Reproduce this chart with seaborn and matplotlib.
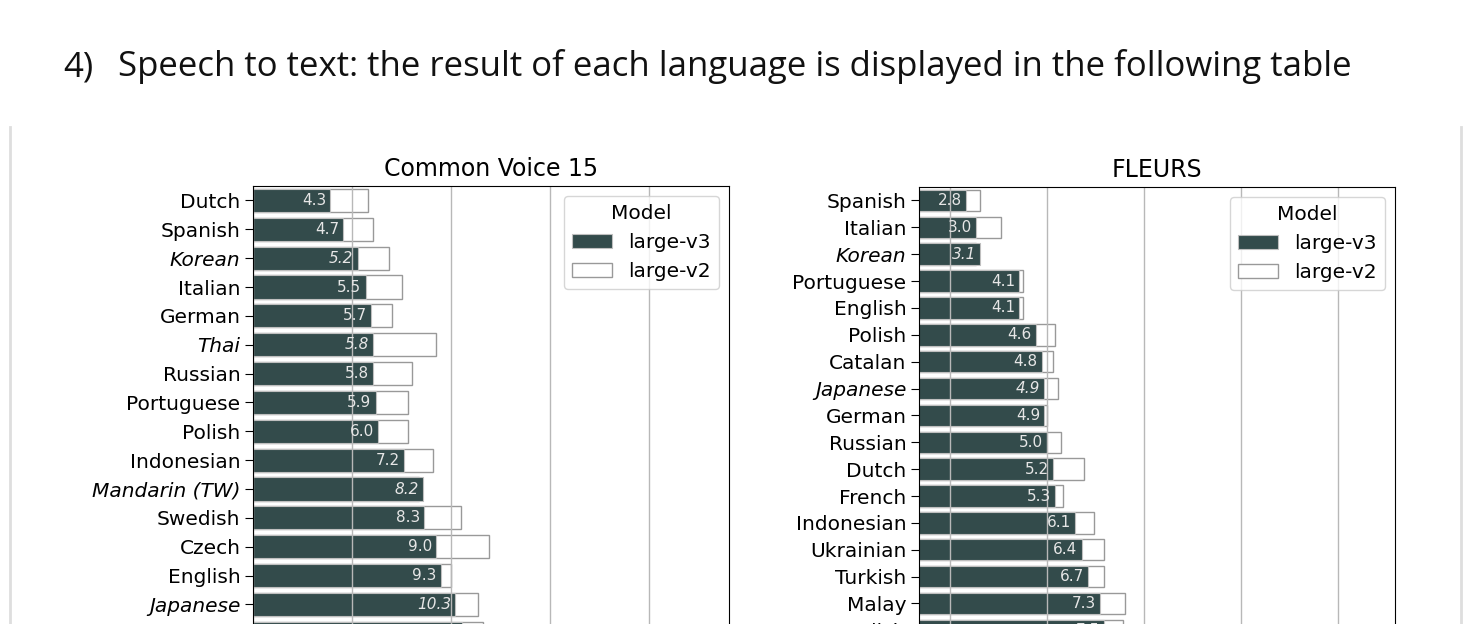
import pandas as pd
import matplotlib
matplotlib.use("Agg")
import matplotlib.pyplot as plt
import seaborn as sns
from matplotlib.lines import Line2D

# data (word error rate, %)
cv_langs = ["Dutch", "Spanish", "Korean", "Italian", "German", "Thai", "Russian",
            "Portuguese", "Polish", "Indonesian", "Mandarin (TW)", "Swedish",
            "Czech", "English", "Japanese", "French"]
cv_v3 = [4.3, 4.7, 5.2, 5.5, 5.7, 5.8, 5.8, 5.9, 6.0, 7.2, 8.2, 8.3, 9.0, 9.3, 10.3, 10.8]
cv_v2 = [5.6, 5.8, 6.5, 7.1, 6.6, 9.0, 7.6, 7.4, 7.4, 8.8, 8.0, 10.7, 13.0, 10.0, 12.1, 12.5]
cv_italic = ["Korean", "Thai", "Mandarin (TW)", "Japanese"]

fl_langs = ["Spanish", "Italian", "Korean", "Portuguese", "English", "Polish", "Catalan",
            "Japanese", "German", "Russian", "Dutch", "French", "Indonesian",
            "Ukrainian", "Turkish", "Malay", "Swedish"]
fl_v3 = [2.8, 3.0, 3.1, 4.1, 4.1, 4.6, 4.8, 4.9, 4.9, 5.0, 5.2, 5.3, 6.1, 6.4, 6.7, 7.3, 7.5]
fl_v2 = [3.1, 3.6, 3.0, 4.2, 4.2, 5.3, 5.2, 5.4, 5.0, 5.5, 6.5, 5.6, 7.0, 7.5, 7.5, 8.7, 8.6]
fl_italic = ["Korean", "Japanese"]

ticks = [2.5, 5, 10, 20, 40]
dark = "#2f4f4f"

fig = plt.figure(figsize=(14.63, 6.24), dpi=100)
fig.patch.set_facecolor("white")

# heading of the document page
base_y = (624 - 76) / 624
fig.text(63 / 1463, base_y, "4)", fontsize=25, family="Open Sans",
         color="#111111", va="baseline", ha="left")
fig.text(118 / 1463, base_y,
         "Speech to text: the result of each language is displayed in the following table",
         fontsize=25, family="Open Sans", color="#111111", va="baseline", ha="left")

# light frame around the embedded picture
for xp in [10, 1461]:
    fig.add_artist(Line2D([xp / 1463, xp / 1463], [0, (624 - 127) / 624],
                          transform=fig.transFigure, color="#dedede", lw=2))


def panel(rect, title, langs, v3, v2, italic, xlim):
    ax = fig.add_axes(rect)
    df = pd.DataFrame({"Language": langs, "large-v3": v3, "large-v2": v2})
    sns.barplot(data=df, y="Language", x="large-v2", order=langs, color="white",
                edgecolor="0.6", linewidth=1, width=0.8, label="large-v2", ax=ax)
    sns.barplot(data=df, y="Language", x="large-v3", order=langs, color=dark,
                edgecolor="0.75", linewidth=0.8, width=0.8, label="large-v3", ax=ax)
    ax.set_xscale("log")
    ax.set_xlim(*xlim)
    ax.set_xticks(ticks)
    ax.set_xticklabels([str(t) for t in ticks])
    ax.minorticks_off()
    ax.grid(axis="x", color="#b8b8b8", lw=1)
    ax.set_xlabel("")
    ax.set_ylabel("")
    ax.set_title(title, fontsize=17, pad=7)
    ax.tick_params(axis="y", labelsize=14.5, length=6, pad=3)
    for lbl in ax.get_yticklabels():
        if lbl.get_text() in italic:
            lbl.set_fontstyle("italic")

    # value labels inside the large-v3 bars
    texts = ax.bar_label(ax.containers[1], fmt="%.1f", padding=-3,
                         fontsize=11, color="#e6e6e6")
    for t, lang in zip(texts, langs):
        t.set_ha("right")
        if lang in italic:
            t.set_fontstyle("italic")

    h, l = ax.get_legend_handles_labels()
    ax.legend(h[::-1], l[::-1], title="Model", loc="upper right",
              fontsize=14.5, title_fontsize=14.5)
    return ax


row_cv = 28.86
row_fl = 26.87
top_cv = 186
top_fl = 187
h_cv = len(cv_langs) * row_cv
h_fl = len(fl_langs) * row_fl

panel([253 / 1463, (624 - top_cv - h_cv) / 624, 476 / 1463, h_cv / 624],
      "Common Voice 15", cv_langs, cv_v3, cv_v2, cv_italic, (2.5, 70))
panel([919 / 1463, (624 - top_fl - h_fl) / 624, 476 / 1463, h_fl / 624],
      "FLEURS", fl_langs, fl_v3, fl_v2, fl_italic, (2.0, 60))

fig.savefig("out.png", dpi=100)
